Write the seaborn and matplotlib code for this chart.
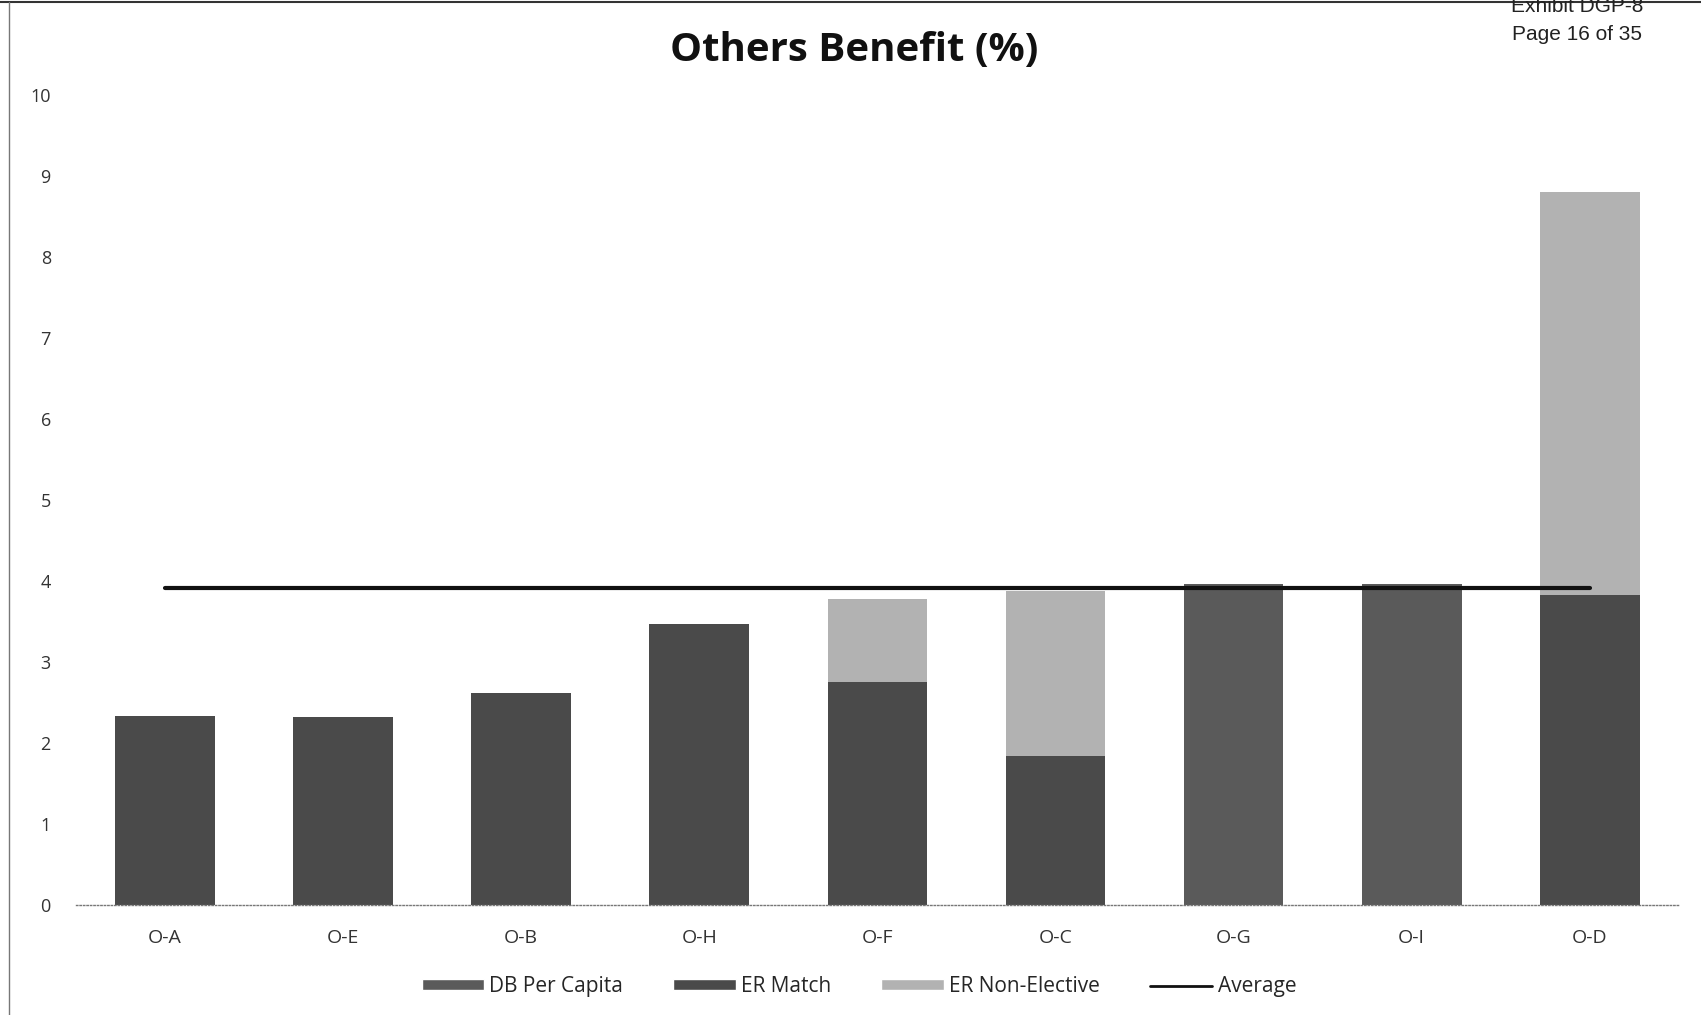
import matplotlib
matplotlib.use("Agg")
import matplotlib.pyplot as plt
import seaborn as sns
import pandas as pd
from matplotlib.lines import Line2D
from matplotlib.patches import Patch

# Plan codes and benefit components (% of pay)
plans = ["O-A", "O-E", "O-B", "O-H", "O-F", "O-C", "O-G", "O-I", "O-D"]
db_per_capita = [0.00, 0.00, 0.00, 0.00, 0.00, 0.00, 3.97, 3.97, 0.00]
er_match = [2.34, 2.33, 2.62, 3.47, 2.76, 1.85, 0.00, 0.00, 3.83]
er_non_elective = [0.00, 0.00, 0.00, 0.00, 1.02, 2.03, 0.00, 0.00, 4.98]
average = [3.92] * 9

y_ticks = list(range(0, 11))

c_db = "#5a5a5a"
c_match = "#4a4a4a"
c_nonel = "#b2b2b2"

df = pd.DataFrame({"plan": plans, "db": db_per_capita,
                   "match": er_match, "nonel": er_non_elective})
df["lvl2"] = df["db"] + df["match"]
df["lvl3"] = df["lvl2"] + df["nonel"]

sns.set_theme(style="white")
plt.rcParams["font.family"] = ["Open Sans", "DejaVu Sans"]

fig = plt.figure(figsize=(17.01, 10.15), dpi=100)
ax = fig.add_axes([0.0446, 0.108, 0.9424, 0.798])

w = 0.56
# stacked bars, drawn as cumulative totals from the top layer down
for col, colr in [("lvl3", c_nonel), ("lvl2", c_match), ("db", c_db)]:
    sns.barplot(data=df, x="plan", y=col, color=colr, width=w, ax=ax,
                saturation=1, order=plans, linewidth=0, edgecolor=colr)

sns.lineplot(x=list(range(len(plans))), y=average, color="#111111",
             linewidth=3, ax=ax)

ax.set_xlim(-0.5, len(plans) - 0.5)
ax.set_ylim(0, 10)
ax.set_yticks(y_ticks)
ax.set_yticklabels([str(t) for t in y_ticks], fontsize=13, color="#333333")
ax.set_xticks(range(len(plans)))
ax.set_xticklabels(plans, fontsize=14, color="#333333")
ax.tick_params(axis="x", pad=17, length=0)
ax.tick_params(axis="y", pad=18, length=0)
ax.set_xlabel("")
ax.set_ylabel("")
for s in ["top", "right", "left"]:
    ax.spines[s].set_visible(False)
ax.spines["bottom"].set_linestyle((0, (1, 1.5)))
ax.spines["bottom"].set_color("#777777")
ax.spines["bottom"].set_linewidth(1)

fig.text(0.502, 0.950, "Others Benefit (%)", ha="center", va="center",
         fontsize=29, fontweight="bold", color="#111111")
fig.text(0.927, 0.994, "Exhibit DGP-8", ha="center", va="center",
         fontsize=15, color="#222222", family=["Liberation Sans"])
fig.text(0.927, 0.966, "Page 16 of 35", ha="center", va="center",
         fontsize=15, color="#222222", family=["Liberation Sans"])

# page edges
fig.add_artist(Line2D([0, 1], [0.998, 0.998], color="#333333", lw=1.5,
                      transform=fig.transFigure))
fig.add_artist(Line2D([0.005, 0.005], [0, 0.998], color="#777777", lw=1,
                      transform=fig.transFigure))

handles = [
    Patch(facecolor=c_db, label="DB Per Capita"),
    Patch(facecolor=c_match, label="ER Match"),
    Patch(facecolor=c_nonel, label="ER Non-Elective"),
    Line2D([0], [0], color="#111111", lw=2, label="Average"),
]
fig.legend(handles=handles, loc="center", bbox_to_anchor=(0.505, 0.028),
           ncol=4, frameon=False, fontsize=15, handlelength=3.0,
           handleheight=0.4, columnspacing=2.4, handletextpad=0.25)

fig.savefig("out.png", dpi=100, facecolor="white")
